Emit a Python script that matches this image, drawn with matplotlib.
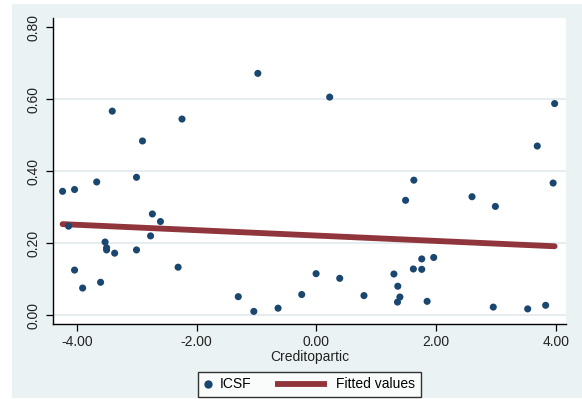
import numpy as np
import matplotlib
matplotlib.use("Agg")
import matplotlib.pyplot as plt
from matplotlib.patches import Rectangle
from matplotlib.lines import Line2D
from matplotlib.legend_handler import HandlerBase

plt.rcParams['font.family'] = ['Liberation Sans', 'DejaVu Sans']

# ICSF contre Creditopartic
credito = [-4.24, -4.04, -3.67, -3.005, -2.74, -2.605, -4.14, -2.77, -3.53, -3.505,
           -3.505, -3.37, -3.005, -4.04, -2.31, -3.605, -3.905,
           -1.305, -1.045, -0.64, -0.245, -0.005,
           1.628, 1.49, 0.39, 1.295, 1.76, 1.96, 1.62, 1.76, 1.36, 0.795, 1.395, 1.355, 1.85,
           2.6, 2.99, 3.955, 2.955, 3.53, 3.83,
           -3.41, -2.905, -2.245, -0.978,
           0.222, 3.98, 3.69]
icsf = [0.344, 0.349, 0.370, 0.383, 0.281, 0.260, 0.247, 0.220, 0.203, 0.187,
        0.181, 0.172, 0.181, 0.125, 0.133, 0.091, 0.075,
        0.051, 0.010, 0.019, 0.057, 0.115,
        0.375, 0.319, 0.102, 0.114, 0.156, 0.160, 0.128, 0.127, 0.080, 0.054, 0.050, 0.036, 0.038,
        0.329, 0.302, 0.367, 0.022, 0.017, 0.027,
        0.567, 0.484, 0.545, 0.672,
        0.606, 0.588, 0.470]

x_ticks = [-4, -2, 0, 2, 4]
x_labels = ['-4.00', '-2.00', '0.00', '2.00', '4.00']
y_ticks = [0, 0.2, 0.4, 0.6, 0.8]
y_labels = ['0.00', '0.20', '0.40', '0.60', '0.80']

navy = '#1A476F'
maroon = '#90353B'
bg = '#EAF2F3'

# droite de regression (lfit)
x = np.array(credito)
y = np.array(icsf)
b, a = np.polyfit(x, y, 1)
fit_x = np.array([x.min(), x.max()])
fit_y = a + b * fit_x


# cles de legende facon Stata : point etroit, trait long
class DotKey(HandlerBase):
    def create_artists(self, legend, orig_handle, xdescent, ydescent, width, height, fontsize, trans):
        m = Line2D([-xdescent + 3.2], [-ydescent + height / 2], marker='o', ls='none',
                   color=navy, markersize=5, transform=trans)
        return [m]


class BarKey(HandlerBase):
    def create_artists(self, legend, orig_handle, xdescent, ydescent, width, height, fontsize, trans):
        x1 = -xdescent + width - 3.6
        x0 = x1 - 38
        l = Line2D([x0, x1], [-ydescent + height / 2] * 2, color=maroon, lw=4.2,
                   solid_capstyle='butt', transform=trans)
        return [l]


fig = plt.figure(figsize=(5.82, 3.99), dpi=100, facecolor='white')
fig.patches.append(Rectangle((12 / 582, 1 / 399), 570 / 582, 394 / 399,
                             transform=fig.transFigure, facecolor=bg,
                             edgecolor='none', zorder=-10))

ax = fig.add_axes([53 / 582, 1 - 324 / 399, 513 / 582, 306 / 399])
ax.set_facecolor('white')

for g in [0, 0.2, 0.4, 0.6]:
    ax.axhline(g, color='#E3ECEF', lw=1.3, zorder=0)

ax.scatter(credito, icsf, s=26, color=navy, edgecolors='none', zorder=3)
ax.plot(fit_x, fit_y, color=maroon, lw=4.2, solid_capstyle='round', zorder=2)

ax.set_xlim(-4.4, 4.17)
ax.set_ylim(-0.025, 0.826)
ax.set_xticks(x_ticks)
ax.set_xticklabels(x_labels, fontsize=10)
ax.set_yticks(y_ticks)
ax.set_yticklabels(y_labels, fontsize=10, rotation=90, va='center')
ax.tick_params(direction='out', length=5, width=0.9, color='black', labelcolor='#222222', pad=3)
ax.tick_params(axis='y', pad=4)

for s in ['top', 'right']:
    ax.spines[s].set_visible(False)
for s in ['left', 'bottom']:
    ax.spines[s].set_color('black')
    ax.spines[s].set_linewidth(1.0)

ax.set_xlabel('Creditopartic', fontsize=10, color='#222222', labelpad=1)

h_dot = Line2D([], [], marker='o', ls='none', color=navy)
h_fit = Line2D([], [], color=maroon)
leg = fig.legend([h_dot, h_fit], ['ICSF', 'Fitted values'], loc='center',
                 bbox_to_anchor=(309.5 / 582, 1 - 384.5 / 399), ncol=2,
                 handler_map={h_dot: DotKey(), h_fit: BarKey()},
                 fontsize=10, frameon=True, fancybox=False, handlelength=0.9,
                 columnspacing=4.9, handletextpad=0.28, borderpad=0.4)
leg.get_frame().set_edgecolor('black')
leg.get_frame().set_linewidth(1.0)

fig.savefig('out.png', dpi=100, facecolor=fig.get_facecolor())
